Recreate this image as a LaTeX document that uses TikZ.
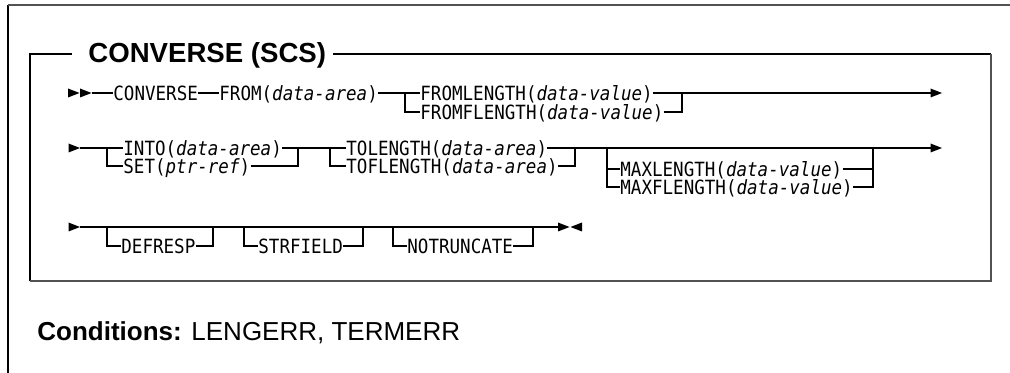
\documentclass[tikz,border=0pt]{standalone}
\usepackage{fontspec}
\setmainfont{Liberation Sans}
\newfontfamily\railfont{DejaVu Sans Mono}[FakeStretch=0.895]
\usetikzlibrary{arrows.meta,positioning,calc}

\begin{document}
\begin{tikzpicture}[x=0.5pt, y=-0.5pt,
    kw/.style={anchor=west, inner sep=0pt, text height=8.6pt, text depth=1.5pt, font=\railfont\fontsize{9.8}{11}\selectfont},
    rail/.style={line width=0.6pt, black},
    frameline/.style={line width=0.7pt, black},
    shadeline/.style={line width=1.4pt, black!68}
]
    \useasboundingbox (0,0) rectangle (1010,373);

    % Outer frame
    \draw[frameline] (8,373) -- (8,5.5);
    \draw[shadeline, line width=1pt] (8,5.5) -- (1010,5.5);

    % Inner box with title
    \node[anchor=west, inner sep=0pt, font=\bfseries\fontsize{13.8}{16}\selectfont] (title) at (88,55) {CONVERSE (SCS)};
    \draw[frameline] (72,54) -- (30,54) -- (30,281);
    \draw[frameline] (333,54) -- (991,54);
    \draw[shadeline] (30,281) -- (991,281) -- (991,54);

    % Row 1
    \coordinate (r1s) at (91.5,93);
    \node[kw] (conv) at (113,93) {CONVERSE};
    \node[kw] (from) at (219,93) {FROM(\textit{data-area})};
    \coordinate (b1l) at (405,93);
    \node[kw] (flen) at (420,93) {FROMLENGTH(\textit{data-value})};
    \node[kw] (fflen) at (420,112) {FROMFLENGTH(\textit{data-value})};
    \coordinate (b1r) at (682,93);
    \coordinate (r1e) at (942,93);

    \fill (79.5,93) -- ++(-11.5,-4.5) -- ++(0,9) -- cycle;
    \fill (r1s) -- ++(-11.5,-4.5) -- ++(0,9) -- cycle;
    \draw[rail] (r1s) -- (conv.west);
    \draw[rail] (conv.east) -- (from.west);
    \draw[rail] (from.east) -- (b1l) -- (flen.west);
    \draw[rail] (b1l) |- (fflen.west);
    \draw[rail] (flen.east) -- (b1r) -- ($(r1e)+(-10,0)$);
    \draw[rail] (fflen.east) -| (b1r);
    \fill (r1e) -- ++(-11.5,-4.5) -- ++(0,9) -- cycle;

    % Row 2
    \coordinate (r2s) at (80,148);
    \coordinate (b2l) at (107,148);
    \node[kw] (into) at (123,148) {INTO(\textit{data-area})};
    \node[kw] (set) at (123,166) {SET(\textit{ptr-ref})};
    \coordinate (b2r) at (298,148);
    \coordinate (b3l) at (330,148);
    \node[kw] (tolen) at (346,148) {TOLENGTH(\textit{data-area})};
    \node[kw] (toflen) at (346,166) {TOFLENGTH(\textit{data-area})};
    \coordinate (b3r) at (575,148);
    \coordinate (b4l) at (607,148);
    \node[kw] (maxlen) at (620,169) {MAXLENGTH(\textit{data-value})};
    \node[kw] (maxflen) at (620,187) {MAXFLENGTH(\textit{data-value})};
    \coordinate (b4r) at (873,148);
    \coordinate (r2e) at (942,148);

    \fill (r2s) -- ++(-11.5,-4.5) -- ++(0,9) -- cycle;
    \draw[rail] (r2s) -- (b2l) -- (into.west);
    \draw[rail] (b2l) |- (set.west);
    \draw[rail] (into.east) -- (b2r) -- (b3l) -- (tolen.west);
    \draw[rail] (set.east) -| (b2r);
    \draw[rail] (b3l) |- (toflen.west);
    \draw[rail] (tolen.east) -- (b3r) -- (b4l) -- (b4r) -- ($(r2e)+(-10,0)$);
    \draw[rail] (toflen.east) -| (b3r);
    \draw[rail] (b4l) |- (maxflen.west);
    \draw[rail] (maxlen.west -| b4l) -- (maxlen.west);
    \draw[rail] (maxflen.east) -| (b4r);
    \draw[rail] (maxlen.east) -- (maxlen.east -| b4r);
    \fill (r2e) -- ++(-11.5,-4.5) -- ++(0,9) -- cycle;

    % Row 3
    \coordinate (r3s) at (80,227);
    \coordinate (o1l) at (107,227);
    \node[kw] (defr) at (121,246) {DEFRESP};
    \coordinate (o1r) at (213,227);
    \coordinate (o2l) at (244,227);
    \node[kw] (strf) at (258,246) {STRFIELD};
    \coordinate (o2r) at (363,227);
    \coordinate (o3l) at (393,227);
    \node[kw] (notr) at (407,246) {NOTRUNCATE};
    \coordinate (o3r) at (533,227);
    \coordinate (r3e) at (569.5,227);

    \fill (r3s) -- ++(-11.5,-4.5) -- ++(0,9) -- cycle;
    \draw[rail] (r3s) -- (o1l) -- (o1r) -- (o2l) -- (o2r) -- (o3l) -- (o3r) -- ($(r3e)+(-10,0)$);
    \draw[rail] (o1l) |- (defr.west);
    \draw[rail] (defr.east) -| (o1r);
    \draw[rail] (o2l) |- (strf.west);
    \draw[rail] (strf.east) -| (o2r);
    \draw[rail] (o3l) |- (notr.west);
    \draw[rail] (notr.east) -| (o3r);
    \fill (r3e) -- ++(-11.5,-4.5) -- ++(0,9) -- cycle;
    \fill ($(r3e)+(1,0)$) -- ++(11.5,-4.5) -- ++(0,9) -- cycle;

    % Conditions
    \node[anchor=west, inner sep=0pt, font=\fontsize{13}{16}\selectfont] (cond) at (37,333) {\textbf{Conditions:} LENGERR, TERMERR};
\end{tikzpicture}
\end{document}
